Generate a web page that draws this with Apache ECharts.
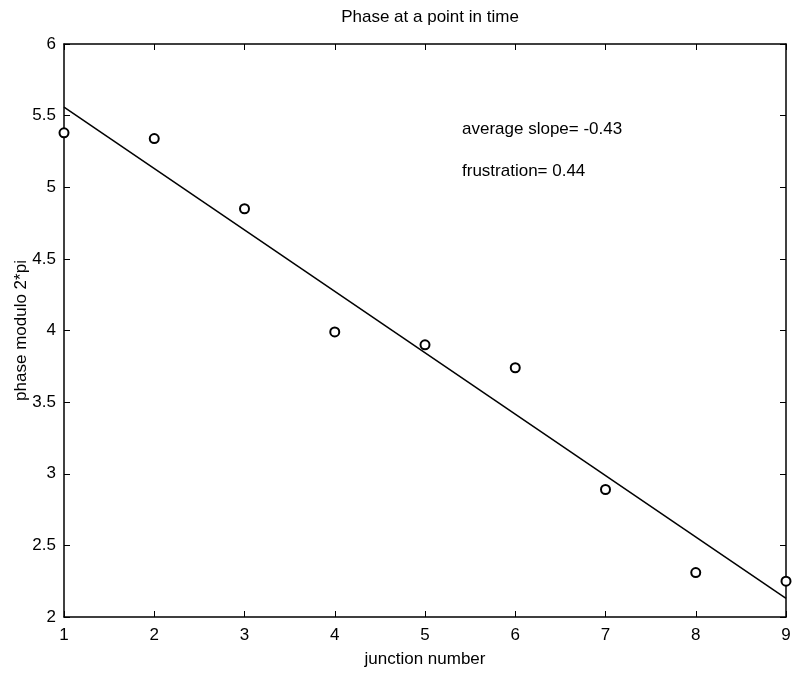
<!DOCTYPE html>
<html lang="en">
<head>
    <meta charset="UTF-8">
    <title>Phase at a point in time</title>
    <style type="text/css">
        *{
            margin: 0;
            padding: 0;
        }
        #main{
            width: 795px;
            height: 677px;
            background: #fff;
        }
    </style>
</head>
<body>
    <div id="main"></div>
    <script src="https://cdn.jsdelivr.net/npm/echarts@6/dist/echarts.min.js"></script>
    <script type="text/javascript">
        // measured phases per junction
        var junctions = [1, 2, 3, 4, 5, 6, 7, 8, 9];
        var phases = [5.38, 5.34, 4.85, 3.99, 3.90, 3.74, 2.89, 2.31, 2.25];
        // fitted line endpoints
        var fitX = [1, 9];
        var fitY = [5.56, 2.13];
        var notes = ['average slope= -0.43', 'frustration= 0.44'];

        var font = 'Liberation Sans, Arial, sans-serif';
        var myChart = echarts.init(document.getElementById('main'));

        var option = {
            backgroundColor: '#fff',
            animation: false,
            title: {
                text: 'Phase at a point in time',
                left: 425,
                top: 4,
                textAlign: 'center',
                textStyle: { fontFamily: font, fontSize: 17, fontWeight: 'normal', color: '#000' }
            },
            grid: { left: 64, right: 9, top: 44, bottom: 60, outerBoundsMode: 'none' },
            xAxis: [{
                type: 'value', min: 1, max: 9, interval: 1,
                name: 'junction number', nameLocation: 'middle', nameGap: 34,
                nameTextStyle: { fontFamily: font, fontSize: 17, color: '#000' },
                axisLine: { lineStyle: { color: '#000', width: 1.5 } },
                axisTick: { inside: true, length: 6, lineStyle: { color: '#000' } },
                axisLabel: { fontFamily: font, fontSize: 17, color: '#000', margin: 10 },
                splitLine: { show: false }
            }, {
                type: 'value', position: 'top', min: 1, max: 9, interval: 1,
                axisLine: { lineStyle: { color: '#000', width: 1.5 } },
                axisTick: { inside: true, length: 6, lineStyle: { color: '#000' } },
                axisLabel: { show: false },
                splitLine: { show: false }
            }],
            yAxis: [{
                type: 'value', min: 2, max: 6, interval: 0.5,
                name: 'phase modulo 2*pi', nameLocation: 'middle', nameGap: 34,
                nameMoveOverlap: false,
                nameTextStyle: { fontFamily: font, fontSize: 17, color: '#000' },
                axisLine: { show: true, lineStyle: { color: '#000', width: 1.5 } },
                axisTick: { show: true, inside: true, length: 6, lineStyle: { color: '#000' } },
                axisLabel: { fontFamily: font, fontSize: 17, color: '#000', margin: 8 },
                splitLine: { show: false }
            }, {
                type: 'value', position: 'right', min: 2, max: 6, interval: 0.5,
                axisLine: { show: true, lineStyle: { color: '#000', width: 1.5 } },
                axisTick: { show: true, inside: true, length: 6, lineStyle: { color: '#000' } },
                axisLabel: { show: false },
                splitLine: { show: false }
            }],
            graphic: [{
                type: 'text', left: 462, top: 121,
                style: { text: notes[0], fontFamily: font, fontSize: 17, fill: '#000' }
            }, {
                type: 'text', left: 462, top: 163,
                style: { text: notes[1], fontFamily: font, fontSize: 17, fill: '#000' }
            }],
            series: [{
                type: 'line',
                data: fitX.map(function (x, i) { return [x, fitY[i]]; }),
                symbol: 'none',
                lineStyle: { color: '#000', width: 1.5 },
                z: 2
            }, {
                type: 'scatter',
                data: junctions.map(function (x, i) { return [x, phases[i]]; }),
                symbol: 'emptyCircle',
                symbolSize: 9,
                itemStyle: { color: '#000', borderWidth: 1.3, opacity: 1 },
                clip: false,
                z: 3
            }]
        };

        myChart.setOption(option);
    </script>
</body>
</html>
